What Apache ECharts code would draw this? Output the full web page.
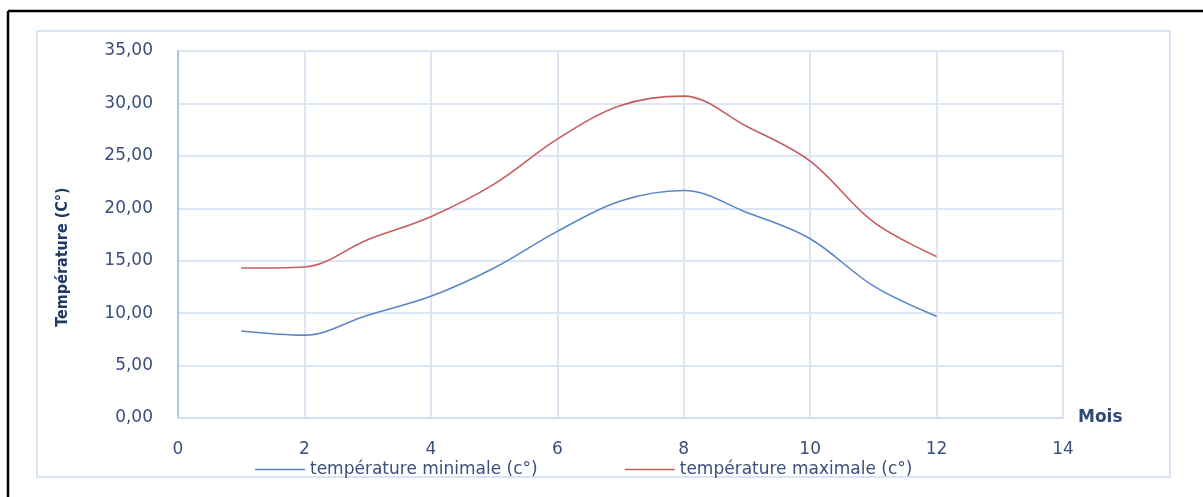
<!DOCTYPE html>
<html>
<head>
<meta charset="utf-8">
<script src="https://cdn.jsdelivr.net/npm/echarts@6/dist/echarts.min.js"></script>
<style>
	html, body { margin: 0; padding: 0; background: #fff; }
	#chart { width: 1203px; height: 497px; }
</style>
</head>
<body>
<div id="chart"></div>
<script>
var chart = echarts.init(document.getElementById('chart'));

var mois = [1, 2, 3, 4, 5, 6, 7, 8, 9, 10, 11, 12];
var tempMin = [8.3, 7.9, 9.8, 11.6, 14.3, 17.8, 20.7, 21.7, 19.6, 17.1, 12.6, 9.7];
var tempMax = [14.3, 14.4, 17.0, 19.2, 22.3, 26.6, 29.8, 30.7, 27.8, 24.5, 18.7, 15.4];
var nomMin = 'température minimale (c°)';
var nomMax = 'température maximale (c°)';

function pairs(xs, ys) {
	var out = [];
	for (var i = 0; i < xs.length; i++) {
		out.push([xs[i], ys[i]]);
	}
	return out;
}

var labelColor = '#3b4f7c';
var font = 'DejaVu Sans';

var option = {
	animation: false,
	color: ['#5a86c8', '#c65c5c'],
	graphic: [
		// cadre noir (haut + gauche)
		{ type: 'line', shape: { x1: 8, y1: 11, x2: 1203, y2: 11 }, style: { stroke: '#000', lineWidth: 2.5 } },
		{ type: 'line', shape: { x1: 8, y1: 11, x2: 8, y2: 497 }, style: { stroke: '#000', lineWidth: 2.5 } },
		// cadre du graphique
		{ type: 'rect', shape: { x: 37, y: 31, width: 1133, height: 446 }, style: { fill: 'none', stroke: '#d8e3f3', lineWidth: 2 } },
		// titre axe Y
		{
			type: 'text', x: 63, y: 257, rotation: Math.PI / 2,
			style: {
				text: 'Température (C°)', fill: '#1f3864',
				font: 'bold 16px "Liberation Sans Narrow", "DejaVu Sans Condensed", sans-serif',
				align: 'center', verticalAlign: 'middle'
			}
		}
	],
	grid: {
		left: 178,
		right: 140,
		top: 51,
		bottom: 79
	},
	legend: {
		left: 250,
		top: 456,
		icon: 'rect',
		itemWidth: 50,
		itemHeight: 1.6,
		itemGap: 87,
		textStyle: { color: labelColor, fontFamily: font, fontSize: 17 },
		data: [nomMin, nomMax]
	},
	xAxis: {
		type: 'value',
		min: 0,
		max: 14,
		interval: 2,
		name: 'Mois',
		nameLocation: 'end',
		nameGap: 15,
		nameTextStyle: { color: '#2f4a78', fontFamily: font, fontWeight: 'bold', fontSize: 17, padding: [0, 0, 6, 0] },
		axisLine: { lineStyle: { color: '#d4e0f2', width: 2 } },
		axisTick: { show: false },
		axisLabel: { color: labelColor, fontFamily: font, fontSize: 17, margin: 23 },
		splitLine: { lineStyle: { color: '#dce6f5', width: 2 } }
	},
	yAxis: {
		type: 'value',
		min: 0,
		max: 35,
		interval: 5,
		axisLine: { show: true, lineStyle: { color: '#aac4e8', width: 2 } },
		axisTick: { show: false },
		axisLabel: {
			color: labelColor, fontFamily: font, fontSize: 17, margin: 25,
			formatter: function (v) { return v.toFixed(2).replace('.', ','); }
		},
		splitLine: { lineStyle: { color: '#dce6f5', width: 2 } }
	},
	series: [{
		name: nomMin,
		type: 'line',
		smooth: 0.35,
		symbol: 'none',
		lineStyle: { width: 1.6 },
		data: pairs(mois, tempMin)
	}, {
		name: nomMax,
		type: 'line',
		smooth: 0.35,
		symbol: 'none',
		lineStyle: { width: 1.6 },
		data: pairs(mois, tempMax)
	}]
};
chart.setOption(option);
</script>
</body>
</html>
